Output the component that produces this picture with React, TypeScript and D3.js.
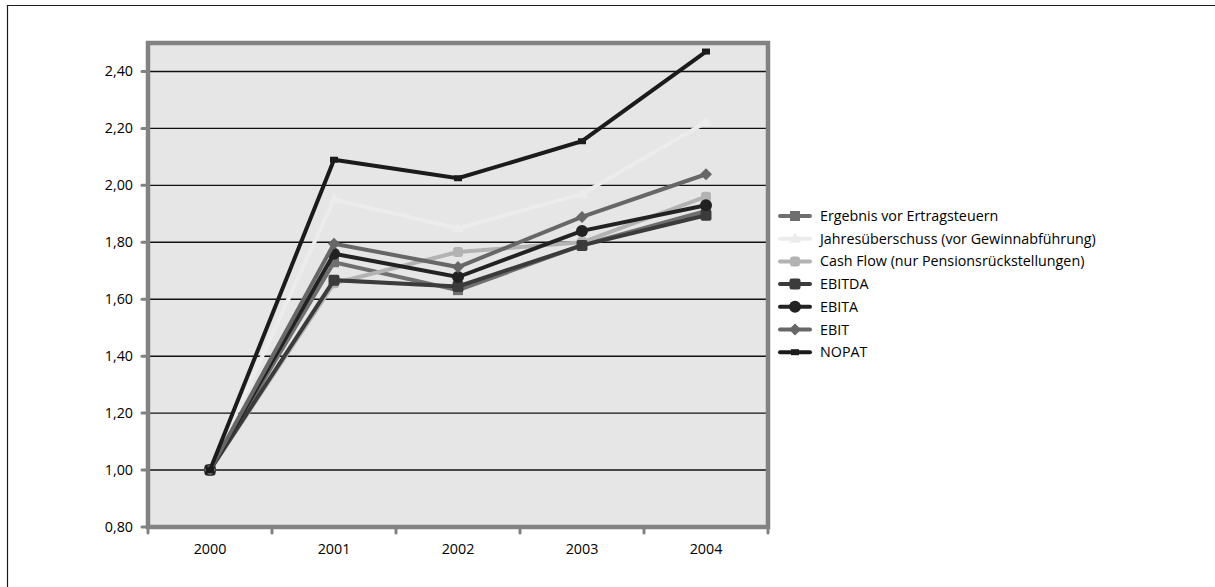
import React from "react";
import * as d3 from "d3";

const years = ["2000", "2001", "2002", "2003", "2004"];
const yTicks = [0.8, 1.0, 1.2, 1.4, 1.6, 1.8, 2.0, 2.2, 2.4];

const ergebnis = [1.0, 1.73, 1.632, 1.79, 1.91];
const jahresueberschuss = [1.0, 1.95, 1.849, 1.97, 2.222];
const cashFlow = [1.0, 1.656, 1.766, 1.8, 1.96];
const ebitda = [1.0, 1.667, 1.645, 1.789, 1.895];
const ebita = [1.0, 1.76, 1.678, 1.84, 1.93];
const ebit = [1.0, 1.795, 1.713, 1.889, 2.039];
const nopat = [1.0, 2.09, 2.025, 2.155, 2.47];

type Marker = "square" | "triangle" | "cross" | "xsquare" | "circle" | "diamond" | "dash";

const series: { name: string; values: number[]; color: string; marker: Marker }[] = [
  { name: "Ergebnis vor Ertragsteuern", values: ergebnis, color: "#6f6f6f", marker: "square" },
  { name: "Jahresüberschuss (vor Gewinnabführung)", values: jahresueberschuss, color: "#ececec", marker: "triangle" },
  { name: "Cash Flow (nur Pensionsrückstellungen)", values: cashFlow, color: "#b3b3b3", marker: "cross" },
  { name: "EBITDA", values: ebitda, color: "#3b3b3b", marker: "xsquare" },
  { name: "EBITA", values: ebita, color: "#222222", marker: "circle" },
  { name: "EBIT", values: ebit, color: "#676767", marker: "diamond" },
  { name: "NOPAT", values: nopat, color: "#1b1b1b", marker: "dash" },
];

const W = 1215;
const H = 587;
const plot = { left: 148, right: 768, top: 43, bottom: 527 };
const font = "'Open Sans', 'Noto Sans', sans-serif";
const fontSize = 14.3;

function MarkerShape({ kind, x, y, color }: { kind: Marker; x: number; y: number; color: string }) {
  switch (kind) {
    case "square":
      return <rect x={x - 5} y={y - 5} width={10} height={10} fill={color} />;
    case "triangle":
      return <path d={`M${x},${y - 6}L${x + 6},${y + 4}L${x - 6},${y + 4}Z`} fill={color} />;
    case "cross":
      return <rect x={x - 5} y={y - 5} width={10} height={10} rx={3} fill={color} />;
    case "xsquare":
      return <rect x={x - 5.5} y={y - 5.5} width={11} height={11} rx={2} fill={color} />;
    case "circle":
      return <circle cx={x} cy={y} r={6} fill={color} />;
    case "diamond":
      return <path d={`M${x},${y - 6}L${x + 6},${y}L${x},${y + 6}L${x - 6},${y}Z`} fill={color} />;
    case "dash":
      return <rect x={x - 4} y={y - 3} width={8} height={6} fill={color} />;
  }
}

export default function App() {
  const x = d3
    .scaleBand<string>()
    .domain(years)
    .range([plot.left, plot.right]);
  const y = d3.scaleLinear().domain([0.8, 2.5]).range([plot.bottom, plot.top]);
  const cx = (yr: string) => (x(yr) ?? 0) + x.bandwidth() / 2;

  const line = d3
    .line<number>()
    .x((_, i) => cx(years[i]))
    .y((v) => y(v));

  const boundaries = years.map((yr) => x(yr) ?? 0).concat([plot.right]);

  const legendX = 780;
  const legendY0 = 216;
  const legendStep = 22.7;

  return (
    <svg width={W} height={H} style={{ position: "absolute", left: 0, top: 0, display: "block" }}>
      <rect x={0} y={0} width={W} height={H} fill="#ffffff" />
      {/* outer chart frame */}
      <path d={`M7.5,${H + 2}V5.5H${W + 2}`} fill="none" stroke="#1a1a1a" strokeWidth={1.2} />

      {/* plot area */}
      <rect
        x={plot.left}
        y={plot.top}
        width={plot.right - plot.left}
        height={plot.bottom - plot.top}
        fill="#e6e6e6"
      />

      {/* horizontal gridlines */}
      {yTicks
        .filter((t) => t > 0.8)
        .map((t) => (
          <line
            key={t}
            x1={plot.left}
            x2={plot.right}
            y1={y(t)}
            y2={y(t)}
            stroke="#111"
            strokeWidth={1.4}
          />
        ))}

      {/* plot border */}
      <rect
        x={plot.left}
        y={plot.top}
        width={plot.right - plot.left}
        height={plot.bottom - plot.top}
        fill="none"
        stroke="#828282"
        strokeWidth={4.5}
      />

      {/* y axis ticks and labels */}
      {yTicks.map((t) => (
        <g key={t}>
          <line
            x1={plot.left - 6}
            x2={plot.left}
            y1={y(t)}
            y2={y(t)}
            stroke="#828282"
            strokeWidth={3}
            strokeLinecap="round"
          />
          <text
            x={133}
            y={y(t)}
            dy="0.35em"
            textAnchor="end"
            fontFamily={font}
            fontSize={fontSize}
            fill="#000"
          >
            {d3.format(".2f")(t).replace(".", ",")}
          </text>
        </g>
      ))}

      {/* x axis ticks and labels */}
      {boundaries.map((bx, i) => (
        <line
          key={i}
          x1={bx}
          x2={bx}
          y1={plot.bottom}
          y2={plot.bottom + 6}
          stroke="#828282"
          strokeWidth={3}
          strokeLinecap="round"
        />
      ))}
      {years.map((yr) => (
        <text
          key={yr}
          x={cx(yr)}
          y={549}
          dy="0.35em"
          textAnchor="middle"
          fontFamily={font}
          fontSize={fontSize}
          fill="#000"
        >
          {yr}
        </text>
      ))}

      {/* series */}
      {series.map((s) => (
        <g key={s.name}>
          <path
            d={line(s.values) ?? ""}
            fill="none"
            stroke={s.color}
            strokeWidth={4}
            strokeLinejoin="miter"
          />
          {s.values.map((v, i) => (
            <MarkerShape key={i} kind={s.marker} x={cx(years[i])} y={y(v)} color={s.color} />
          ))}
        </g>
      ))}

      {/* legend */}
      {series.map((s, i) => {
        const ly = legendY0 + i * legendStep;
        return (
          <g key={s.name}>
            <line
              x1={legendX}
              x2={legendX + 30}
              y1={ly}
              y2={ly}
              stroke={s.color}
              strokeWidth={4}
              strokeLinecap="round"
            />
            <MarkerShape kind={s.marker} x={legendX + 15} y={ly} color={s.color} />
            <text
              x={legendX + 40}
              y={ly}
              dy="0.35em"
              fontFamily={font}
              fontSize={fontSize}
              fill="#000"
            >
              {s.name}
            </text>
          </g>
        );
      })}
    </svg>
  );
}
